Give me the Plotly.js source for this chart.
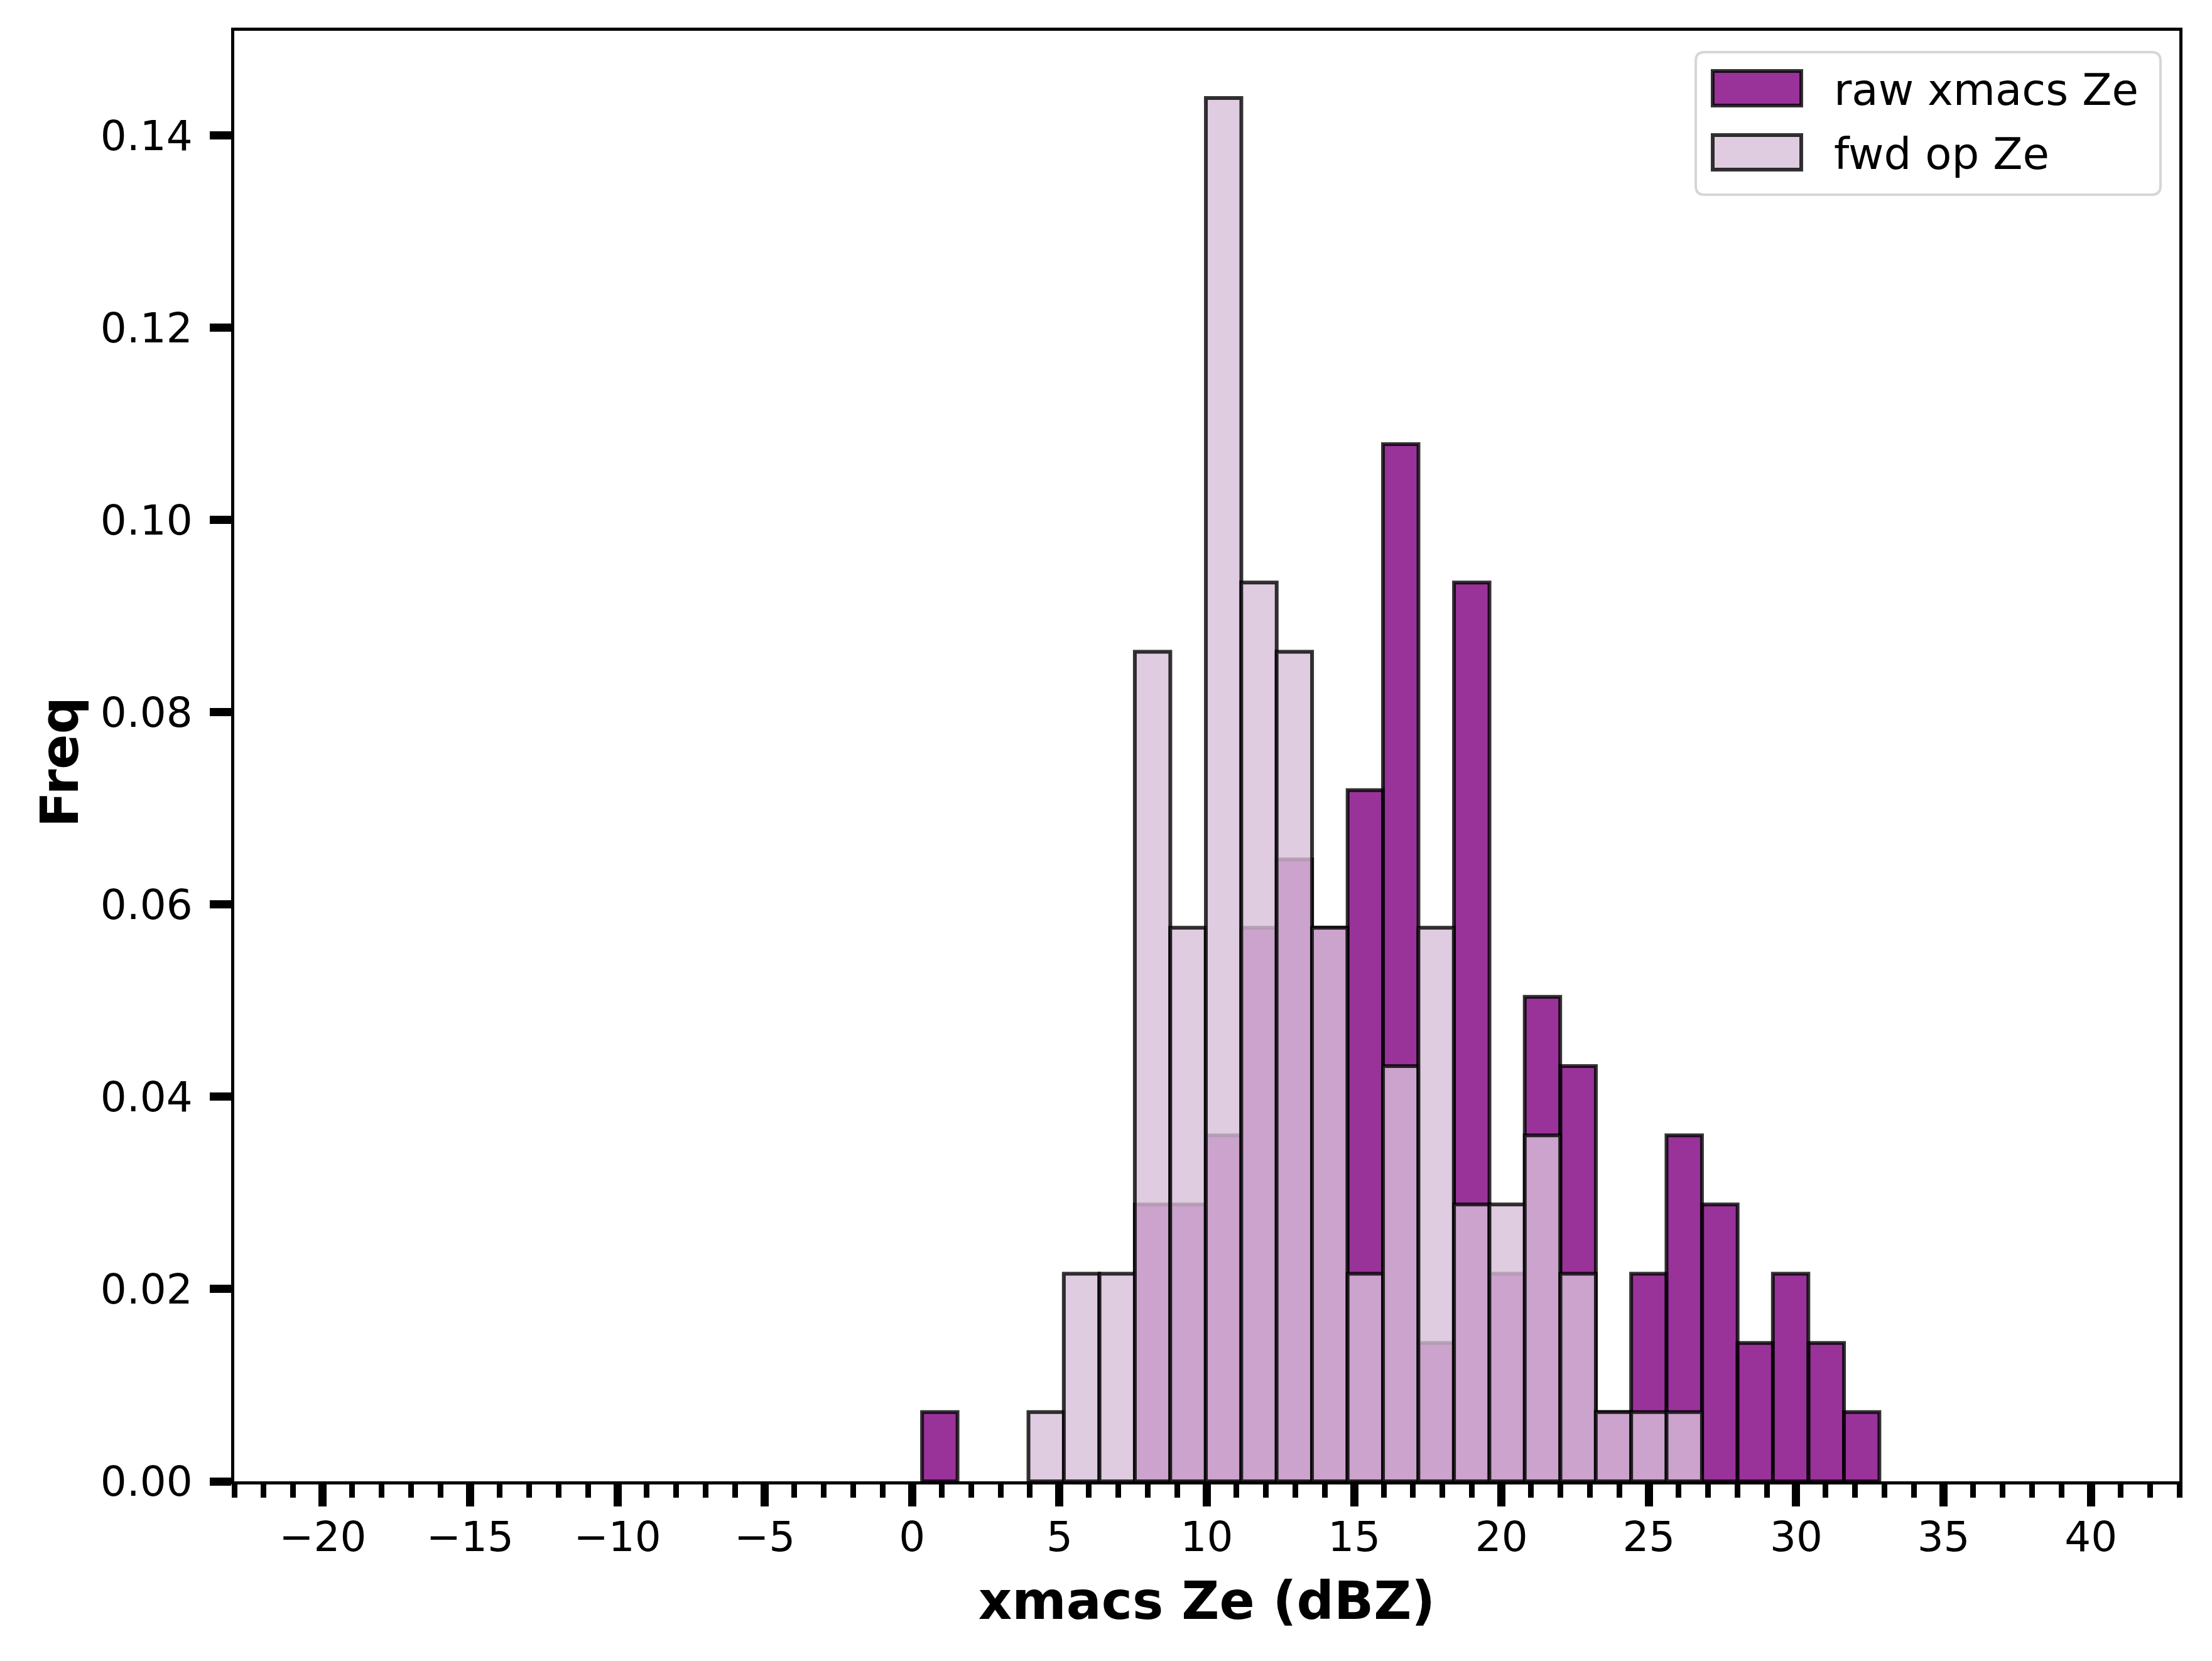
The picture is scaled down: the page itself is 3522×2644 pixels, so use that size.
<!DOCTYPE html>
<html>
<head>
<meta charset="utf-8">
<script src="https://cdn.plot.ly/plotly-3.0.1.min.js"></script>
<style>
  html, body { margin: 0; padding: 0; background: #ffffff; }
  #chart { width: 3522px; height: 2644px; }
</style>
</head>
<body>
<div id="chart"></div>
<script>
// histogram bins (centres in dBZ)
const binCenters = [0.94, 2.14, 3.35, 4.55, 5.75, 6.96, 8.16, 9.36, 10.57, 11.77,
  12.97, 14.17, 15.38, 16.58, 17.78, 18.99, 20.19, 21.39, 22.60, 23.80,
  25.00, 26.20, 27.41, 28.61, 29.81, 31.02, 32.22];
const BIN_WIDTH = 1.203;

const rawFreq = [0.0072, 0, 0, 0, 0, 0, 0.0288, 0.0288, 0.0360, 0.0576,
  0.0647, 0.0576, 0.0719, 0.1079, 0.0144, 0.0935, 0.0216, 0.0504, 0.0432, 0.0072,
  0.0216, 0.0360, 0.0288, 0.0144, 0.0216, 0.0144, 0.0072];

const fwdFreq = [0, 0, 0, 0.0072, 0.0216, 0.0216, 0.0863, 0.0576, 0.1439, 0.0935,
  0.0863, 0.0576, 0.0216, 0.0432, 0.0576, 0.0288, 0.0288, 0.0360, 0.0216, 0.0072,
  0.0072, 0.0072, 0, 0, 0, 0, 0];

const seriesNames = ['raw xmacs Ze', 'fwd op Ze'];

const COLORS = {
  raw: 'rgba(128,0,128,0.8)',
  fwd: 'rgba(216,191,216,0.8)',
  edge: 'rgba(0,0,0,0.8)',
  frame: 'rgba(204,204,204,0.8)',
};
const FONT = 'DejaVu Sans, Liberation Sans, sans-serif';
const TICK_SIZE = 66;
const LABEL_FONT = { family: FONT, size: 83, weight: 'bold', color: '#000000' };

const W = 3522, H = 2644;
const M = { l: 373, r: 52, t: 49, b: 286 };

// pixel -> paper coords, for the hand-drawn legend and y label
const px = x => (x - M.l) / (W - M.l - M.r);
const py = y => (H - M.b - y) / (H - M.t - M.b);

function roundRect(x0, y0, x1, y1, r) {
  const a = px(x0), b = px(x1), c = py(y0), d = py(y1);
  const rx = r / (W - M.l - M.r), ry = r / (H - M.t - M.b);
  return `M${a + rx},${c} L${b - rx},${c} Q${b},${c} ${b},${c - ry} ` +
    `L${b},${d + ry} Q${b},${d} ${b - rx},${d} L${a + rx},${d} ` +
    `Q${a},${d} ${a},${d + ry} L${a},${c - ry} Q${a},${c} ${a + rx},${c} Z`;
}

function histTrace(name, y, color) {
  return {
    type: 'bar',
    name: name,
    x: binCenters,
    // empty bins get no patch at all (matplotlib draws nothing visible there)
    y: y.map(v => (v === 0 ? null : v)),
    width: BIN_WIDTH,
    marker: { color: color, line: { color: COLORS.edge, width: 6 } },
    showlegend: false,
    hoverinfo: 'x+y',
  };
}

const traces = [
  histTrace(seriesNames[0], rawFreq, COLORS.raw),
  histTrace(seriesNames[1], fwdFreq, COLORS.fwd),
];

// legend drawn by hand so the patches match the matplotlib look
const legendRows = [
  { label: seriesNames[0], color: COLORS.raw, top: 113 },
  { label: seriesNames[1], color: COLORS.fwd, top: 215 },
];
const shapes = [{
  type: 'path', xref: 'paper', yref: 'paper', layer: 'above',
  path: roundRect(2700, 83, 3440, 310, 14),
  fillcolor: 'rgba(255,255,255,0.8)',
  line: { color: COLORS.frame, width: 4 },
}];
const annotations = [];
legendRows.forEach(r => {
  shapes.push({
    type: 'rect', xref: 'paper', yref: 'paper', layer: 'above',
    x0: px(2727), x1: px(2868), y0: py(r.top), y1: py(r.top + 55),
    fillcolor: r.color, line: { color: COLORS.edge, width: 6 },
  });
  annotations.push({
    xref: 'paper', yref: 'paper', x: px(2918), y: py(r.top + 30),
    xanchor: 'left', yanchor: 'middle', showarrow: false,
    text: r.label, font: { family: FONT, size: 69, color: '#000000' },
  });
});

// y label as an annotation: the axis title can't sit close enough to the ticks
annotations.push({
  xref: 'paper', yref: 'paper', x: px(95), y: py(1213),
  xanchor: 'center', yanchor: 'middle', textangle: -90, showarrow: false,
  text: 'Freq', font: LABEL_FONT,
});

const axisCommon = {
  showline: true, linecolor: '#000000', linewidth: 5, mirror: true,
  showgrid: false, zeroline: false,
  ticks: 'outside', tickcolor: '#000000',
  tickfont: { family: FONT, size: TICK_SIZE, color: '#000000' },
};

const layout = {
  width: W, height: H,
  margin: M,
  paper_bgcolor: '#ffffff', plot_bgcolor: '#ffffff',
  font: { family: FONT, color: '#000000' },
  barmode: 'overlay', bargap: 0,
  showlegend: false,
  xaxis: {
    ...axisCommon,
    range: [-23, 43],
    tickmode: 'linear', tick0: 0, dtick: 5,
    ticklen: 35, tickwidth: 13,
    ticklabelstandoff: -8,
    minor: { ticks: 'outside', dtick: 1, tick0: 0, ticklen: 21, tickwidth: 9, tickcolor: '#000000', showgrid: false },
    title: { text: 'xmacs Ze (dBZ)', standoff: 36, font: LABEL_FONT },
  },
  yaxis: {
    ...axisCommon,
    range: [0, 0.1509],
    tickmode: 'linear', tick0: 0, dtick: 0.02, tickformat: '.2f',
    ticklen: 34, tickwidth: 13,
    ticklabelstandoff: 14,
  },
  shapes: shapes,
  annotations: annotations,
};

Plotly.newPlot('chart', traces, layout, { displayModeBar: false, staticPlot: true });
</script>
</body>
</html>
